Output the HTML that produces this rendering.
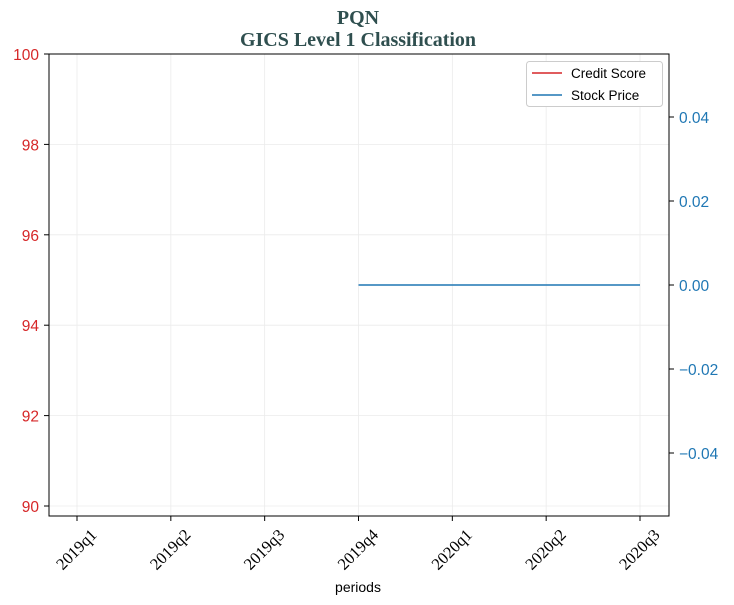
<!DOCTYPE html>
<html><head><meta charset="utf-8"><style>
body{margin:0;background:#fff;}
svg{display:block;}
</style></head><body>
<svg id="chart" width="734" height="605">
<rect width="734" height="605" fill="#fff"/>
<text x="358" y="24" text-anchor="middle" font-family="Liberation Serif, serif" font-weight="bold" font-size="20" fill="#2f4f4f">PQN</text>
<text x="358" y="46" text-anchor="middle" font-family="Liberation Serif, serif" font-weight="bold" font-size="20" fill="#2f4f4f">GICS Level 1 Classification</text>
<g id="grid"></g>
<g id="marks"></g>
<rect x="49" y="54" width="620" height="462" fill="none" stroke="#000" stroke-width="1"/>
<g id="axes"></g>
<text x="358" y="592" text-anchor="middle" font-family="Liberation Sans, sans-serif" font-size="14" fill="#000">periods</text>
<g>
<rect x="526.5" y="61.5" width="136" height="45" rx="3" fill="#fff" stroke="#ccc"/>
<line x1="532" y1="73" x2="562" y2="73" stroke="#d62728" stroke-width="1.5"/>
<text x="571" y="78" font-family="Liberation Sans, sans-serif" font-size="13.5">Credit Score</text>
<line x1="532" y1="95" x2="562" y2="95" stroke="#1f77b4" stroke-width="1.5"/>
<text x="571" y="100" font-family="Liberation Sans, sans-serif" font-size="13.5">Stock Price</text>
</g>
</svg>
<script>
const categories=["2019q1","2019q2","2019q3","2019q4","2020q1","2020q2","2020q3"];
const creditScore=[null,null,null,null,null,null,null];
const stockPrice=[null,null,null,0,0,0,0];
const leftTicks=[90,92,94,96,98,100];
const rightTicks=[-0.04,-0.02,0,0.02,0.04];
const NS="http://www.w3.org/2000/svg";
const L=49,R=669,T=54,B=516;
const xS=i=>77+i*(640-77)/(categories.length-1);
const yL=v=>54+(100-v)*45.2;
const yR=v=>285-v*4200;
function mk(tag,attrs,parent,text){const e=document.createElementNS(NS,tag);for(const k in attrs)e.setAttribute(k,attrs[k]);if(text!==undefined)e.textContent=text;parent.appendChild(e);return e;}
const grid=document.getElementById('grid'),axes=document.getElementById('axes'),marks=document.getElementById('marks');
categories.forEach((c,i)=>{
 const x=xS(i);
 const g=mk('line',{x1:x,x2:x,y1:T,y2:B,stroke:'#ebebeb','stroke-width':0.8},grid);
 
 
 const t=mk('line',{x1:x,x2:x,y1:B,y2:B+5,stroke:'#000'},axes);
 
 
 const lb=mk('text',{x:x-1,y:555,'text-anchor':'middle','font-family':'Liberation Serif, serif','font-size':16.5,transform:`rotate(-45 ${x-1} 549)`},axes,c);
 
 
});
leftTicks.forEach(v=>{
 const y=yL(v);
 const g=mk('line',{x1:L,x2:R,y1:y,y2:y,stroke:'#ebebeb','stroke-width':0.8},grid);
 
 
 const t=mk('line',{x1:L-5,x2:L,y1:y,y2:y,stroke:'#000'},axes);
 
 
 const lb=mk('text',{x:39,y:y+6,'text-anchor':'end','font-family':'Liberation Sans, sans-serif','font-size':15.5,fill:'#d62728'},axes,String(v));
 
 
});
rightTicks.forEach(v=>{
 const y=yR(v);
 const t=mk('line',{x1:R,x2:R+5,y1:y,y2:y,stroke:'#000'},axes);
 
 
 const s=(v<0?'\u2212':'')+Math.abs(v).toFixed(2);
 const lb=mk('text',{x:679,y:y+6,'font-family':'Liberation Sans, sans-serif','font-size':15.5,fill:'#1f77b4'},axes,s);
 
 
});
function path(vals,ys){let d='';let pen=false;vals.forEach((v,i)=>{if(v===null){pen=false;return;}d+=(pen?'L':'M')+xS(i)+' '+ys(v)+' ';pen=true;});return d;}
const cs=mk('path',{d:path(creditScore,yL),fill:'none',stroke:'#d62728','stroke-width':1.5},marks);


const sp=mk('path',{d:path(stockPrice,yR),fill:'none',stroke:'#1f77b4','stroke-width':1.5},marks);


</script>
</body></html>
